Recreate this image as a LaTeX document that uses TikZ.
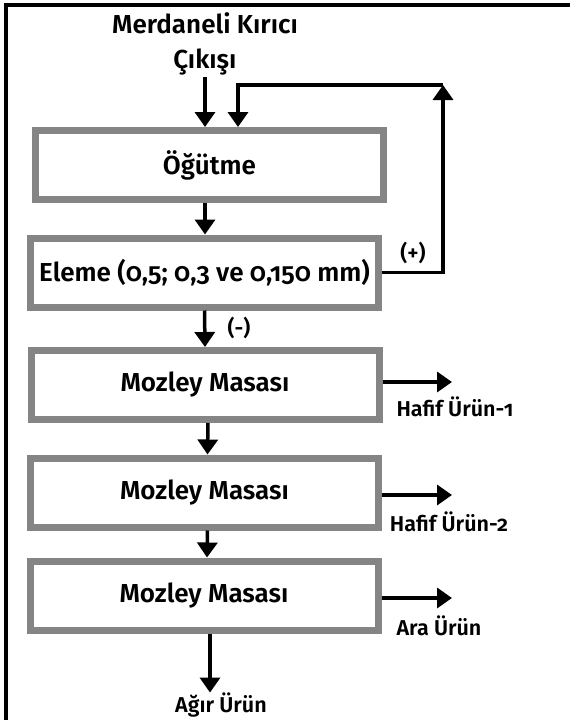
\documentclass[tikz,border=0pt]{standalone}
\usepackage{fontspec}
\setmainfont{Fira Sans}[Numbers=OldStyle, BoldFont={Fira Sans SemiBold}]
\usetikzlibrary{positioning,arrows.meta}

\begin{document}
\begin{tikzpicture}[x=1pt,y=-1pt,
    stage/.style={draw=black!48, line width=7pt, fill=white, minimum width=348pt,
      minimum height=69pt, inner sep=0pt, font=\bfseries\fontsize{26}{30}\selectfont},
    flow/.style={line width=3.5pt, -{Triangle[width=20pt,length=15pt]}},
    lbl/.style={font=\bfseries\fontsize{21.5}{25}\selectfont, inner sep=0pt}]
  \useasboundingbox (0,0) rectangle (570,720);
  % frame, only top and left show
  \draw[line width=4pt] (570,5) -- (6,5) -- (6,720);
  \node[lbl, align=center, font=\bfseries\fontsize{26}{35}\selectfont] (src) at (205,44) {Merdaneli Kırıcı\\Çıkışı};
  \node[stage] (og) at (209.5,165) {Öğütme};
  \node[stage] (el) at (204.5,272.5) {Eleme (0,5; 0,3 ve 0,150 mm)};
  \node[stage] (m1) at (205,385) {Mozley Masası};
  \node[stage] (m2) at (204.5,492.5) {Mozley Masası};
  \node[stage] (m3) at (204,595.5) {Mozley Masası};
  \coordinate (ret) at (443,85);
  \coordinate (h1) at (452,382);
  \coordinate (h2) at (452,495);
  \coordinate (ar) at (452,598);
  \node[lbl] (h1t) at (455,407) {Hafif Ürün-1};
  \node[lbl] (h2t) at (449,522) {Hafif Ürün-2};
  \node[lbl] (art) at (439,626) {Ara Ürün};
  \node[lbl] (agr) at (221,705) {Ağır Ürün};
  \node[lbl] (plus) at (413,253) {(+)};
  \node[lbl] (minus) at (239,328) {(-)};
  \draw[flow] (205,77) -- (205,127);
  \draw[flow] (el.east) -| (ret);
  \draw[flow] (ret) -| ([xshift=28.5pt]og.north);
  \draw[flow] (og.south -| 205,0) -- (el.north -| 205,0);
  \draw[flow] (el.south) -- (m1.north);
  \draw[flow] ([xshift=3pt]m1.south) -- ([xshift=3pt]m2.north);
  \draw[flow] ([xshift=3pt]m2.south) -- ([xshift=3pt]m3.north);
  \draw[flow] ([xshift=6pt]m3.south) -- ([xshift=6pt]m3.south |- agr.north);
  \draw[flow] (m1.east |- h1) -- (h1);
  \draw[flow] (m2.east |- h2) -- (h2);
  \draw[flow] (m3.east |- ar) -- (ar);
\end{tikzpicture}
\end{document}
